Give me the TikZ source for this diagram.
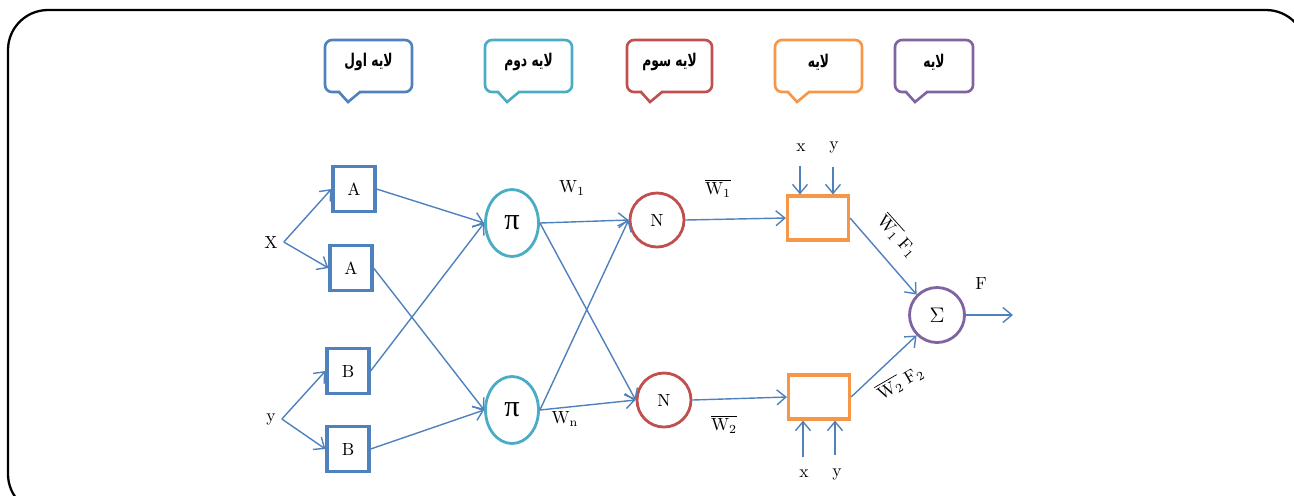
\documentclass[tikz,border=0pt]{standalone}
\usepackage{fontspec}
\newfontfamily\arabicfont[Script=Arabic]{DejaVu Sans}
\newfontfamily\greekfont{Liberation Serif}
\TeXXeTstate=1
\usetikzlibrary{arrows.meta,shapes.geometric,scopes}
\definecolor{linkblue}{RGB}{79,129,189}
\definecolor{layercyan}{RGB}{75,172,198}
\definecolor{layerred}{RGB}{192,80,77}
\definecolor{layerorange}{RGB}{247,150,70}
\definecolor{layerpurple}{RGB}{128,100,162}
\begin{document}
\begin{tikzpicture}[x=0.2mm,y=-0.2mm,
    link/.style={draw=linkblue,line width=0.8pt,-{Straight Barb[length=1.8mm,width=3mm]}},
    bubble/.style={draw=#1,line width=1.5pt,rounded corners=1.4mm},
    mfbox/.style={draw=linkblue,line width=1.8pt,minimum width=8.4mm,minimum height=9mm,inner sep=0pt},
    prodnode/.style={ellipse,draw=layercyan,line width=1.6pt,minimum width=10.6mm,minimum height=13.4mm,inner sep=0pt,font=\greekfont\LARGE},
    normnode/.style={circle,draw=layerred,line width=1.6pt,minimum size=10.8mm,inner sep=0pt},
    rulebox/.style={draw=layerorange,line width=1.8pt,minimum width=12.2mm,minimum height=8.8mm,inner sep=0pt},
    sumnode/.style={circle,draw=layerpurple,line width=1.6pt,minimum size=11mm,inner sep=0pt}]
  \useasboundingbox (0,0) rectangle (1294,495);
  \clip (0,0) rectangle (1294,495);
  \draw[line width=1.3pt,rounded corners=8mm] (8,10) rectangle (1306,514);
  % layer callouts
  \foreach \l/\r/\tip/\c/\txt in {325/412/348/linkblue/لایه اول,
      485/572/507/layercyan/لایه دوم, 627/712/650/layerred/لایه سوم,
      775/862/797/layerorange/لایه, 895/973/915/layerpurple/لایه}{
    \draw[bubble=\c] (\l,40) rectangle (\r,92);
    \fill[white] (\tip-8,89) rectangle (\tip+11,95);
    \draw[draw=\c,line width=1.5pt] (\tip-9,92) -- (\tip,102) -- (\tip+12,92);
    \node[font=\arabicfont\bfseries,xscale=0.7] (tag\tip) at ({(\l+\r)/2},62) {\beginR\txt\endR};
  }
  % inputs and membership functions
  \node (X) at (271,242) {X};
  \node (Y) at (271,419) {y};
  { [every node/.style=mfbox]
    \node (A1) at (354,189) {A};
    \node (A2) at (351,268) {A};
    \node (B1) at (348,371) {B};
    \node (B2) at (348,449) {B};
  }
  \node[prodnode] (P1) at (512,223) {π};
  \node[prodnode] (P2) at (512,410) {π};
  \node[normnode] (N1) at (657,220) {N};
  \node[normnode] (N2) at (664,400) {N};
  \node[rulebox] (R1) at (818,218) {};
  \node[rulebox] (R2) at (819,397) {};
  \node[sumnode] (S) at (937,315) {\large$\Sigma$};
  \coordinate (Fout) at (1013,315);
  % rule inputs
  \node (xt) at (801,148) {x};
  \node (yt) at (834,148) {y};
  \node (xb) at (804,474) {x};
  \node (yb) at (837,474) {y};
  % weights
  { [every node/.style={inner sep=1pt}]
    \node (w1) at (572,188) {W$_1$};
    \node (wn) at (565,419) {W$_\mathrm{n}$};
    \node (v1) at (718,188) {$\overline{\mathrm{W}_1}$};
    \node (v2) at (724,424) {$\overline{\mathrm{W}_2}$};
    \node[rotate=-48] (f1) at (898,236) {$\overline{\mathrm{W}_1}\;\mathrm{F}_1$};
    \node[rotate=30] (f2) at (900,382) {$\overline{\mathrm{W}_2}\;\mathrm{F}_2$};
    \node (fo) at (981,284) {F};
  }
  \draw[link] (X.east) -- (A1.west);
  \draw[link] (X.east) -- (A2.west);
  \draw[link] (Y.east) -- (B1.west);
  \draw[link] (Y.east) -- (B2.west);
  \draw[link] (A1.east) -- (P1.west);
  \draw[link] (B1.east) -- (P1.west);
  \draw[link] (A2.east) -- (P2.west);
  \draw[link] (B2.east) -- (P2.west);
  \draw[link] (P1.east) -- (N1.west);
  \draw[link] (P1.east) -- (N2.west);
  \draw[link] (P2.east) -- (N1.west);
  \draw[link] (P2.east) -- (N2.west);
  \draw[link] (N1.east) -- (R1.west);
  \draw[link] (N2.east) -- (R2.west);
  \draw[link] (R1.east) -- (S.135);
  \draw[link] (R2.east) -- (S.225);
  \draw[link] (S.east) -- (Fout);
  \draw[link,shorten <=1.5mm] (xt.south) ++(-1,0) coordinate (xa) -- (xa |- R1.north);
  \draw[link,shorten <=1.5mm] (yt.south) ++(-1,0) coordinate (ya) -- (ya |- R1.north);
  \draw[link,shorten <=1.5mm] (xb.north) ++(-1,0) coordinate (xc) -- (xc |- R2.south);
  \draw[link,shorten <=1.5mm] (yb.north) ++(-2,0) coordinate (yc) -- (yc |- R2.south);
\end{tikzpicture}
\end{document}
